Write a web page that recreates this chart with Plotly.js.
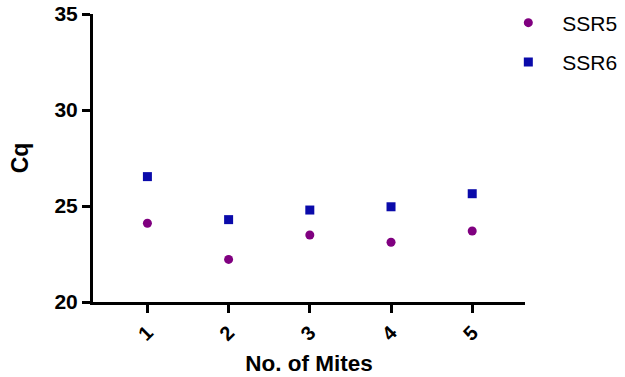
<!DOCTYPE html>
<html>
<head>
<meta charset="utf-8">
<script src="https://cdn.plot.ly/plotly-3.0.1.min.js"></script>
<style>html,body{margin:0;padding:0;background:#fff;}#chart{width:625px;height:377px;}</style>
</head>
<body>
<div id="chart"></div>
<script>
const mites = [1, 2, 3, 4, 5];
const tickLabels = ["1", "2", "3", "4", "5"];
const ssr5 = [24.10, 22.22, 23.49, 23.11, 23.70];
const ssr6 = [26.53, 24.29, 24.79, 24.96, 25.64];

const FONT = '"Liberation Sans", Arial, sans-serif';

const traces = [
  {x: mites, y: ssr5, name: 'SSR5', type: 'scatter', mode: 'markers', legendgroup: 'a',
   marker: {symbol: 'circle', size: 9, color: '#800080'}},
  {x: mites, y: ssr6, name: 'SSR6', type: 'scatter', mode: 'markers', legendgroup: 'b',
   marker: {symbol: 'square', size: 9, color: '#0a0aaa'}}
];

const layout = {
  width: 625, height: 377,
  margin: {l: 93, r: 100, t: 14, b: 75, autoexpand: false},
  paper_bgcolor: '#fff', plot_bgcolor: '#fff',
  font: {family: FONT, color: '#000'},
  showlegend: true,
  legend: {x: 0.929, xanchor: 'left', y: 1.04, yanchor: 'top', itemwidth: 58,
           tracegroupgap: 9, font: {size: 21, family: FONT}, bgcolor: 'rgba(0,0,0,0)'},
  xaxis: {
    range: [0.33, 5.65], tickvals: mites, ticktext: tickLabels, tickangle: -45,
    showline: true, linewidth: 3, linecolor: '#000', ticks: 'outside', ticklen: 8, tickwidth: 3,
    tickcolor: '#000', showgrid: false, zeroline: false,
    tickfont: {size: 20, family: FONT, weight: 'bold'},
    title: {text: '<b>No. of Mites</b>', font: {size: 22.5, family: FONT}, standoff: 12}
  },
  yaxis: {
    range: [20, 35], tickvals: [20, 25, 30, 35],
    showline: true, linewidth: 3, linecolor: '#000', ticks: 'outside', ticklen: 8, tickwidth: 3,
    tickcolor: '#000', showgrid: false, zeroline: false,
    tickfont: {size: 21, family: FONT, weight: 'bold'},
    title: {text: '<b>Cq</b>', font: {size: 23, family: FONT}, standoff: 20}
  }
};

Plotly.newPlot('chart', traces, layout, {displayModeBar: false, staticPlot: true});
</script>
</body>
</html>
